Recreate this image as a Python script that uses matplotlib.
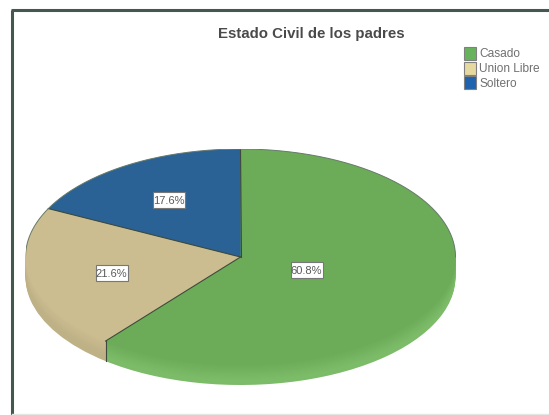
import numpy as np
import matplotlib
matplotlib.use("Agg")
import matplotlib.pyplot as plt
from matplotlib.colors import to_rgb
from matplotlib.patches import Rectangle

labels = ["Casado", "Union Libre", "Soltero"]
values = [60.8, 21.6, 17.6]
pct_labels = ["60.8%", "21.6%", "17.6%"]
colors = ["#6cac58", "#cbbd90", "#2a6296"]
side_colors = ["#7cbb68", "#bfb186", "#24527e"]
legend_colors = ["#66b35c", "#e6d9a0", "#1f63ae"]

W, H = 549, 415
plt.rcParams["font.family"] = ["Liberation Sans", "DejaVu Sans"]

fig = plt.figure(figsize=(W / 100, H / 100), dpi=100, facecolor="white")

# whole figure in pixels, for frame / legend
bg = fig.add_axes([0, 0, 1, 1])
bg.set_xlim(0, W)
bg.set_ylim(H, 0)
bg.axis("off")
bg.plot([11.5, 11.5], [H, 10], color="#45574f", lw=2.2, solid_capstyle="butt")
bg.plot([10.5, W], [10.5, 10.5], color="#45574f", lw=2.2, solid_capstyle="butt")
bg.plot([12, W], [413.5, 413.5], color="#e4e6e4", lw=1.0)

bg.text(311.5, 34, "Estado Civil de los padres", fontsize=10.8, fontweight="bold",
        color="#4a4a4a", ha="center", va="center")

for i, lab in enumerate(labels):
    y = 53.5 + i * 14.7
    bg.add_patch(Rectangle((463.5, y - 6.5), 12.5, 13, fc=legend_colors[i], ec="#808080", lw=0.8))
    bg.text(479, y + 0.7, lab, fontsize=8.6, color="#707070", va="center", ha="left")

# pie axes: unit circle squashed to the ellipse
cx, cy, rx, ry, depth = 240.5, 257, 215, 108, 20
ax = fig.add_axes([(cx - rx) / W, 1 - (cy + ry + depth) / H,
                   2 * rx / W, (2 * ry + depth) / H])
ax.patch.set_alpha(0)

d = depth / ry
top = np.array([to_rgb(c) for c in colors])
side = np.array([to_rgb(c) for c in side_colors])
# the rim fades from the top colour near the lid to the side colour at the bottom
for off in np.arange(d, 0, -0.01):
    f = off / d
    layer = top + (side - top) * min(1, f * 1.3)
    ax.pie(values, colors=[tuple(c) for c in layer], startangle=90, counterclock=False,
           center=(0, -off), radius=1, wedgeprops={"linewidth": 0})
ax.pie(values, colors=colors, startangle=90, counterclock=False,
       center=(0, 0), radius=1, wedgeprops={"linewidth": 0})

# slice borders: dark radii, grey arc only over the back of the pie
cuts = np.cumsum(values)[[2, 0, 1]] / 100 * 2 * np.pi
for c in cuts:
    ax.plot([0, np.sin(c)], [0, np.cos(c)], color="#3f4a3c", lw=0.8)
c = cuts[1]
ax.plot([np.sin(c), np.sin(c)], [np.cos(c), np.cos(c) - d], color="#3f4a3c", lw=0.8)
t = np.linspace(-np.pi / 2, np.pi / 2, 200)
ax.plot(np.sin(t), np.cos(t), color="#667a6a", lw=0.7)

ax.set_aspect("auto")
ax.set_xlim(-1, 1)
ax.set_ylim(-1 - d, 1)

# percent boxes sit at fixed places in the reference
box_xy = [(306.5, 270), (111.5, 273), (168.5, 200)]
for txt, (x, y) in zip(pct_labels, box_xy):
    bg.add_patch(Rectangle((x - 16, y - 8), 32, 16, fc="white", ec="#777777", lw=0.8, zorder=5))
    bg.text(x, y + 0.5, txt, fontsize=8.0, color="#5a5a5a", ha="center", va="center", zorder=6)
bg.set_zorder(3)
bg.patch.set_alpha(0)

fig.savefig("out.png", dpi=100)
